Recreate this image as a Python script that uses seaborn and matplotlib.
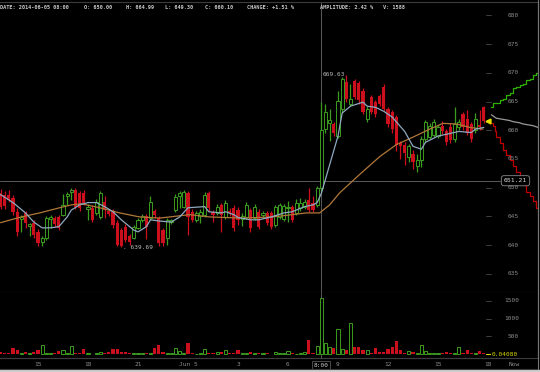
# BTC 15-min candles, Jun 4-5 2014, with volume panel and forecast band

import numpy as np
import matplotlib
matplotlib.use('Agg')
import matplotlib.pyplot as plt
import seaborn as sns
from matplotlib.lines import Line2D
from matplotlib.patches import Rectangle

# candle data (15 minute periods, first one at Jun 4 12:45)
open_ = [649.1, 648.8, 648.8, 648.2, 645.8, 644.6, 645.6, 643.3, 643.9, 642.3,
         640.6, 641.2, 644.5, 644.7, 644.9, 645.3, 648.6, 649.3, 649.6, 649.1,
         649.1, 646.3, 646.5, 645.6, 644.9, 647.5, 646.0, 645.8, 643.9, 642.6,
         643.2, 641.5, 641.3, 643.0, 644.4, 645.0, 644.7, 645.9, 644.7, 642.6,
         641.2, 644.0, 646.1, 648.5, 646.7, 649.1, 645.8, 644.4, 645.1, 645.3,
         649.1, 645.8, 645.6, 647.0, 644.9, 646.0, 646.5, 646.1, 644.5, 644.9,
         646.1, 644.7, 645.8, 645.3, 645.6, 645.6, 643.5, 644.9, 644.6, 646.4,
         646.7, 645.6, 646.5, 646.7, 647.9, 647.4, 647.0, 650.0, 660.2, 661.3,
         661.1, 659.0, 663.7, 668.4, 664.6, 668.6, 668.2, 666.8, 661.9, 665.8,
         664.9, 666.0, 667.5, 663.7, 663.2, 662.3, 657.8, 657.5, 655.3, 655.8,
         653.7, 654.9, 658.4, 658.8, 659.2, 659.0, 660.8, 659.8, 660.5, 658.4,
         660.5, 662.8, 662.0, 661.1, 660.0, 661.0, 664.0]
close = [646.7, 646.8, 647.9, 645.8, 642.3, 644.9, 643.9, 643.6, 641.8, 640.3,
         641.3, 644.7, 644.9, 643.6, 643.0, 647.0, 648.9, 649.6, 646.7, 646.5,
         647.4, 646.7, 644.4, 647.5, 649.1, 646.1, 645.4, 643.5, 640.0, 639.9,
         640.9, 640.6, 643.1, 644.4, 645.0, 643.2, 647.5, 645.2, 640.4, 640.4,
         644.4, 644.3, 648.4, 649.0, 649.3, 644.9, 644.4, 645.6, 645.8, 648.8,
         646.5, 645.2, 646.7, 645.3, 647.4, 645.6, 643.0, 644.4, 645.0, 647.0,
         643.0, 646.7, 643.2, 645.6, 643.9, 643.2, 646.7, 647.0, 646.8, 646.7,
         644.4, 647.4, 647.4, 647.5, 646.1, 646.1, 650.0, 660.1, 663.2, 661.8,
         659.6, 665.1, 668.9, 665.4, 665.4, 665.8, 665.2, 663.2, 663.7, 663.2,
         662.8, 664.6, 663.7, 661.1, 660.2, 657.5, 657.2, 656.1, 657.2, 654.4,
         654.9, 658.4, 661.4, 660.8, 661.4, 660.6, 659.8, 657.9, 658.3, 661.1,
         661.4, 660.5, 659.6, 658.5, 662.0, 660.6, 661.6]
high = [649.8, 649.5, 649.6, 648.8, 646.5, 645.2, 646.0, 643.8, 644.3, 642.8,
        641.6, 645.0, 645.2, 645.0, 645.3, 648.9, 649.3, 650.0, 650.0, 649.5,
        649.6, 647.2, 647.0, 648.0, 649.5, 648.5, 646.3, 646.2, 644.3, 643.0,
        643.6, 641.9, 643.5, 644.8, 645.4, 645.4, 648.6, 646.2, 645.0, 643.0,
        644.8, 644.6, 648.9, 649.4, 649.6, 649.5, 646.2, 646.0, 646.2, 649.2,
        649.5, 646.1, 647.2, 647.4, 647.9, 646.4, 646.9, 646.6, 645.5, 647.5,
        646.5, 647.2, 646.2, 646.0, 646.0, 646.0, 647.0, 647.4, 647.2, 647.6,
        647.0, 648.0, 648.2, 648.0, 650.0, 648.5, 650.3, 664.99, 664.5, 663.7,
        661.5, 666.8, 669.2, 669.63, 668.0, 669.0, 668.6, 667.3, 664.3, 666.2,
        665.3, 666.4, 668.0, 664.0, 663.6, 662.7, 658.2, 658.0, 657.6, 656.6,
        655.8, 659.0, 661.8, 661.3, 661.9, 661.0, 661.6, 660.2, 661.2, 664.0,
        662.0, 663.2, 663.5, 661.5, 663.0, 663.5, 664.3]
low = [646.2, 646.3, 647.5, 645.2, 641.5, 642.3, 643.0, 641.6, 641.2, 639.9,
       639.8, 640.8, 643.0, 643.2, 642.7, 645.0, 647.0, 647.8, 646.2, 646.0,
       647.0, 644.4, 644.0, 645.2, 644.5, 644.7, 645.0, 643.0, 639.9, 639.69,
       640.5, 640.0, 641.0, 642.8, 644.0, 641.0, 644.4, 644.8, 639.8, 639.9,
       640.0, 643.6, 645.8, 646.5, 646.4, 641.8, 644.0, 644.0, 643.8, 644.9,
       646.0, 644.0, 645.2, 642.3, 644.5, 645.0, 642.5, 643.5, 643.3, 644.5,
       642.2, 644.3, 642.8, 644.9, 643.5, 642.8, 643.2, 644.6, 644.2, 644.0,
       644.0, 645.2, 646.0, 646.3, 645.8, 645.8, 646.7, 649.3, 659.6, 658.1,
       659.0, 658.6, 663.0, 665.0, 664.2, 665.4, 664.6, 662.8, 661.5, 662.8,
       662.3, 664.2, 663.3, 660.5, 659.6, 656.4, 655.0, 653.9, 654.4, 653.2,
       652.8, 653.6, 658.0, 658.4, 658.8, 658.6, 659.4, 657.5, 657.8, 658.0,
       660.0, 660.0, 659.2, 658.0, 659.5, 660.0, 661.2]
volume = [56, 40, 30, 167, 120, 47, 65, 28, 65, 120,
          260, 28, 28, 47, 102, 120, 47, 233, 28, 28,
          149, 47, 10, 28, 65, 47, 74, 140, 140, 65,
          74, 28, 28, 28, 28, 47, 28, 167, 260, 74,
          28, 28, 167, 93, 28, 325, 28, 10, 47, 140,
          28, 47, 65, 65, 120, 47, 28, 120, 47, 28,
          74, 28, 28, 28, 28, 10, 65, 47, 28, 84,
          28, 19, 47, 74, 400, 47, 233, 1588, 307, 195,
          167, 698, 140, 120, 865, 214, 214, 120, 120, 28,
          167, 74, 56, 140, 214, 381, 120, 47, 84, 74,
          47, 260, 93, 47, 47, 28, 47, 74, 47, 28,
          214, 47, 120, 28, 28, 102, 28]

# moving averages (hours from Jun 5 00:00, price)
ma_fast_t = [-11.25, -10.5, -9.75, -9.25, -8.75, -8.25, -7.75, -7.25, -7.0, -6.5,
             -6.0, -5.5, -5.0, -4.5, -4.0, -3.25, -3.0, -2.5, -2.25, -1.75,
             -1.0, -0.5, 0.0, 1.0, 1.25, 2.0, 2.25, 2.75, 3.0, 3.75,
             4.25, 5.0, 5.75, 6.25, 7.0, 7.5, 7.75, 8.0, 8.5, 9.0,
             9.25, 9.75, 10.5, 10.75, 11.25, 11.75, 12.25, 13.0, 13.5, 14.0,
             14.25, 15.0, 15.5, 16.25, 17.0, 17.25, 17.75]
ma_fast = [648.8, 647.4, 645.6, 644.0, 643.0, 643.0, 643.2, 644.9, 646.1, 647.0,
           647.4, 647.4, 646.7, 645.8, 644.4, 642.6, 642.3, 643.2, 644.4, 644.2,
           644.0, 644.9, 646.5, 646.7, 645.8, 645.6, 645.8, 645.3, 644.8, 644.4,
           644.4, 644.9, 645.6, 645.8, 646.7, 647.0, 647.4, 649.0, 654.0, 659.0,
           663.0, 664.2, 664.9, 664.2, 664.0, 663.3, 662.3, 659.8, 657.2, 656.7,
           657.9, 659.0, 659.3, 659.8, 659.6, 660.2, 660.5]
ma_slow_t = [-11.25, -10.0, -8.9, -7.7, -7.0, -6.4, -5.3, -4.1, -2.9, -1.7,
             0.1, 1.3, 3.2, 5.1, 7.1, 7.9, 8.5, 9.1, 10.3, 11.5,
             12.5, 13.5, 14.5, 15.3, 16.1, 16.9, 17.7]
ma_slow = [643.9, 644.9, 645.6, 646.5, 647.0, 647.2, 646.5, 645.6, 644.9, 644.7,
           645.3, 644.9, 644.7, 644.9, 645.6, 645.6, 647.0, 649.1, 652.3, 655.4,
           657.5, 658.8, 660.2, 661.2, 661.1, 660.5, 660.2]

# forecast band to the right of the last candle
fc_t = [18.2, 18.3, 18.4, 18.5, 18.7, 18.9, 19.1, 19.3, 19.5, 19.7,
        19.9, 20.1, 20.3, 20.5, 20.7, 20.9, 21.1]
fc_up = [664.1, 664.7, 664.7, 664.8, 665.3, 665.4, 666.2, 666.5, 667.4, 667.6,
         667.9, 668.1, 668.8, 669.0, 669.7, 670.0, 670.0]
fc_mid = [662.7, 662.5, 662.3, 662.1, 662.0, 661.9, 661.8, 661.7, 661.5, 661.4,
          661.3, 661.1, 661.0, 660.9, 660.8, 660.6, 660.4]
fc_down = [661.3, 660.7, 659.8, 658.9, 657.8, 656.6, 655.7, 654.9, 653.7, 652.8,
           651.7, 650.5, 649.3, 648.5, 647.6, 646.4, 645.6]

price_ticks = [635, 640, 645, 650, 655, 660, 665, 670, 675, 680]
vol_ticks = [500, 1000, 1500]
time_ticks = [-9, -6, -3, 0, 3, 6, 9, 12, 15, 18]
time_labels = ['15', '18', '21', 'Jun 5', '3', '6', '9', '12', '15', '18']

RED = '#cc0f1d'
GREEN = '#3c9c1e'
GRAY = '#8c8c8c'

sns.set_theme(style='dark', rc={'axes.facecolor': 'black', 'figure.facecolor': 'black'})
plt.rcParams['font.family'] = ['DejaVu Sans Mono']

o = np.array(open_)
c = np.array(close)
h = np.array(high)
l = np.array(low)
v = np.array(volume)
t = -11.25 + 0.25 * np.arange(len(c))
up = c >= o
cols = np.where(up, GREEN, RED)

W, H = 540, 372
fig = plt.figure(figsize=(W / 100, H / 100), dpi=100)
ax = fig.add_axes([0, 1 - 292.7 / H, 538 / W, 291 / H])
axv = fig.add_axes([0, 1 - 358.3 / H, 538 / W, 65.6 / H], sharex=ax)

# candles
ax.vlines(t, l, h, colors=cols, linewidth=0.9, zorder=2)
ax.bar(t[~up], (c - o)[~up], bottom=o[~up], width=0.19, color=RED, linewidth=0, zorder=3)
ax.bar(t[up], (c - o)[up], bottom=o[up], width=0.19, facecolor='black',
       edgecolor=GREEN, linewidth=0.7, zorder=3)

sns.lineplot(x=ma_slow_t, y=ma_slow, ax=ax, color='#b07838', linewidth=0.9, zorder=4)
sns.lineplot(x=ma_fast_t, y=ma_fast, ax=ax, color='#8fa9c0', linewidth=0.9, zorder=4)

ax.step(fc_t, fc_up, where='post', color='#2fb000', linewidth=0.9)
ax.plot(fc_t, fc_mid, color='#9a9a9a', linewidth=0.9)
ax.step(fc_t, fc_down, where='post', color='#c00000', linewidth=0.9)
ax.plot([t[-1] + 0.25], [c[-1]], marker='<', color='#e8e000', markersize=3.5)

# crosshair
ax.axvline(8.0, color='#5a5a5a', linewidth=0.7, zorder=1)
axv.axvline(8.0, color='#5a5a5a', linewidth=0.7, zorder=1)
ax.axhline(651.21, xmax=500 / 538, color='#5a5a5a', linewidth=0.7, zorder=1)
ax.text(515.5 / 538, 651.21, '651.21', transform=ax.get_yaxis_transform(),
        ha='center', va='center', fontsize=4.6, color='#dddddd',
        bbox=dict(boxstyle='round,pad=0.4', fc='black', ec='#888888', lw=0.6))

# high / low labels
ax.text(t[83] - 0.1, 669.63, '669.63', ha='right', va='center', fontsize=4.4, color='#bbbbbb')
ax.text(t[29] + 0.1, 639.6, '. 639.69', ha='left', va='center', fontsize=4.4, color='#bbbbbb')

ax.set_xlim(-11.28, 21.0)
ax.set_ylim(631.7, 682.4)
for p in price_ticks:
    ax.text(519 / 538, p, str(p), transform=ax.get_yaxis_transform(), ha='right',
            va='center', fontsize=4.4, color=GRAY)
    ax.plot([486 / 538, 491 / 538], [p, p], transform=ax.get_yaxis_transform(),
            color='#4a4a4a', linewidth=0.6)

# volume
axv.bar(t[~up], v[~up], width=0.19, color=RED, linewidth=0)
axv.bar(t[up], v[up], width=0.19, facecolor='black', edgecolor=GREEN, linewidth=0.7)
axv.set_ylim(-112, 1725)
for q in vol_ticks:
    axv.text(519 / 538, q, str(q), transform=axv.get_yaxis_transform(), ha='right',
             va='center', fontsize=4.4, color=GRAY)
    axv.plot([486 / 538, 491 / 538], [q, q], transform=axv.get_yaxis_transform(),
             color='#4a4a4a', linewidth=0.6)
axv.text(518 / 538, 0, '0.04080', transform=axv.get_yaxis_transform(), ha='right',
         va='center', fontsize=4.4, color='#d8d800')
axv.plot([486 / 538, 490 / 538], [0, 0], transform=axv.get_yaxis_transform(),
         color='#d8d800', linewidth=0.8)

axv.set_xticks(time_ticks)
axv.set_xticklabels(time_labels)
axv.tick_params(axis='x', length=0, pad=2.6, labelsize=4.4, labelcolor=GRAY)
axv.text(19.56, -0.055, 'Now', transform=axv.get_xaxis_transform(), ha='center',
         va='top', fontsize=4.4, color=GRAY)
axv.text(8.0, -0.07, '8:00', transform=axv.get_xaxis_transform(), ha='center',
         va='top', fontsize=4.4, color='#cccccc',
         bbox=dict(boxstyle='square,pad=0.25', fc='black', ec='#555555', lw=0.6))

for a in (ax, axv):
    a.set_yticks([])
    a.grid(False)
    a.set_xlabel('')
    a.set_ylabel('')
    for s in a.spines.values():
        s.set_color('#3c3c3c')
        s.set_linewidth(0.8)
    a.spines['left'].set_visible(False)
ax.tick_params(axis='x', labelbottom=False, length=0)
axv.spines['top'].set_visible(False)
ax.spines['right'].set_color('#777777')
axv.spines['right'].set_color('#777777')

# header line with the values of the selected candle
head = [(0, 'DATE: 2014-06-05 08:00'), (84, 'O: 650.00'), (126, 'H: 664.99'),
        (165, 'L: 649.30'), (205, 'C: 660.10'), (247, 'CHANGE: +1.51 %'),
        (320, 'AMPLITUDE: 2.42 %'), (383, 'V: 1588')]
for x0, s in head:
    fig.text(x0 / W, 1 - 7.5 / H, s, ha='left', va='center', fontsize=3.8,
             fontweight='bold', color='#c8c8c8')

fig.add_artist(Line2D([0, 538 / W], [1 - 368.5 / H] * 2, color='#3c3c3c', linewidth=0.8))
fig.add_artist(Line2D([538 / W] * 2, [1 - 368.5 / H, 1], color='#777777', linewidth=0.8))
fig.add_artist(Rectangle((0, 0), 1, 2.5 / H, color='#cfcfcf', transform=fig.transFigure))

fig.savefig('out.png', dpi=100, facecolor='black')
